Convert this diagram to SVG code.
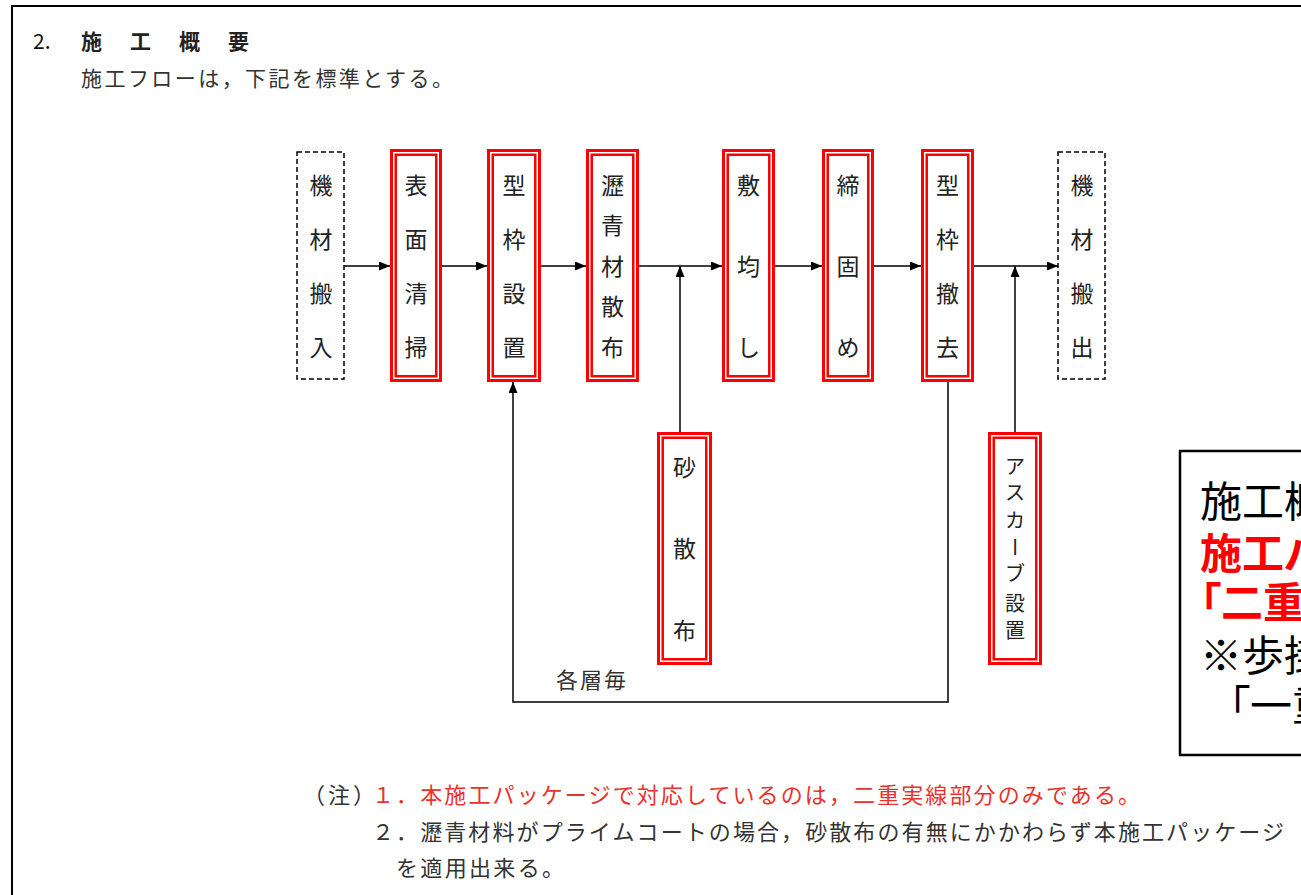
<svg xmlns="http://www.w3.org/2000/svg" width="1301" height="895" viewBox="0 0 1301 895">
<style>
.jp{font-family:"Noto Sans CJK JP","Noto Sans CJK SC",sans-serif;}
.lbl{font-family:"Noto Sans CJK JP","Noto Sans CJK SC",sans-serif;font-size:23px;fill:#222;text-anchor:middle;}
.sm{font-size:20px;}
.ro{fill:none;stroke:#ff0000;stroke-width:3;}
.ri{fill:none;stroke:#ff0000;stroke-width:2.5;}
.dash{fill:#fff;stroke:#000;stroke-width:1.5;stroke-dasharray:5 3;}
.con{fill:none;stroke:#000;stroke-width:1.5;}
.note{font-family:"Noto Sans CJK JP","Noto Sans CJK SC",sans-serif;font-size:22px;fill:#333;}
.big{font-family:"Noto Sans CJK JP","Noto Sans CJK SC",sans-serif;font-size:42px;font-feature-settings:"palt";}
</style>
<defs>
<marker id="ah" markerUnits="userSpaceOnUse" markerWidth="12" markerHeight="10" refX="11" refY="4.5" orient="auto">
<path d="M0,0 L11,4.5 L0,9 z" fill="#000"/>
</marker>
</defs>
<rect x="0" y="0" width="1301" height="895" fill="#fff"/>
<rect x="12" y="6" width="1400" height="1000" fill="none" stroke="#000" stroke-width="2"/>

<g id="header">
<text class="jp" x="33" y="49" font-size="21" fill="#111">2.</text>
<text class="jp" font-size="21" font-weight="bold" fill="#222" y="49"><tspan x="81">施</tspan><tspan x="130">工</tspan><tspan x="179">概</tspan><tspan x="228">要</tspan></text>
<text class="jp" x="81" y="86" font-size="21" fill="#333" textLength="372" lengthAdjust="spacing">施工フローは，下記を標準とする。</text>
</g>

<g id="connectors">
<line class="con" x1="344" y1="266" x2="390" y2="266" marker-end="url(#ah)"/>
<line class="con" x1="442" y1="266" x2="487" y2="266" marker-end="url(#ah)"/>
<line class="con" x1="541" y1="266" x2="586" y2="266" marker-end="url(#ah)"/>
<line class="con" x1="639" y1="266" x2="722" y2="266" marker-end="url(#ah)"/>
<line class="con" x1="775" y1="266" x2="822" y2="266" marker-end="url(#ah)"/>
<line class="con" x1="874" y1="266" x2="921" y2="266" marker-end="url(#ah)"/>
<line class="con" x1="974" y1="266" x2="1058" y2="266" marker-end="url(#ah)"/>
<line class="con" x1="680" y1="432" x2="680" y2="266" marker-end="url(#ah)"/>
<line class="con" x1="1015" y1="432" x2="1015" y2="266" marker-end="url(#ah)"/>
<polyline class="con" points="948,382 948,702 513,702 513,382" marker-end="url(#ah)"/>
</g>

<g id="n-kizai-in">
<rect class="dash" x="297" y="152" width="47" height="227"/>
<text class="lbl" x="321"><tspan x="321" y="194">機</tspan><tspan x="321" y="248">材</tspan><tspan x="321" y="302">搬</tspan><tspan x="321" y="356">入</tspan></text>
</g>

<g id="n-hyomen">
<rect class="ro" x="391.5" y="150.5" width="49" height="230"/>
<rect class="ri" x="395.75" y="154.75" width="40.5" height="221.5"/>
<text class="lbl"><tspan x="416" y="194">表</tspan><tspan x="416" y="248">面</tspan><tspan x="416" y="302">清</tspan><tspan x="416" y="356">掃</tspan></text>
</g>

<g id="n-katawaku-set">
<rect class="ro" x="488.5" y="150.5" width="51" height="230"/>
<rect class="ri" x="492.75" y="154.75" width="42.5" height="221.5"/>
<text class="lbl"><tspan x="514" y="194">型</tspan><tspan x="514" y="248">枠</tspan><tspan x="514" y="302">設</tspan><tspan x="514" y="356">置</tspan></text>
</g>

<g id="n-rekisei">
<rect class="ro" x="587.5" y="150.5" width="50" height="230"/>
<rect class="ri" x="591.75" y="154.75" width="41.5" height="221.5"/>
<text class="lbl"><tspan x="612.5" y="194">瀝</tspan><tspan x="612.5" y="234">青</tspan><tspan x="612.5" y="275">材</tspan><tspan x="612.5" y="315">散</tspan><tspan x="612.5" y="356">布</tspan></text>
</g>

<g id="n-shikinarashi">
<rect class="ro" x="723.5" y="150.5" width="50" height="230"/>
<rect class="ri" x="727.75" y="154.75" width="41.5" height="221.5"/>
<text class="lbl"><tspan x="748.5" y="194">敷</tspan><tspan x="748.5" y="275">均</tspan><tspan x="748.5" y="356">し</tspan></text>
</g>

<g id="n-shimekatame">
<rect class="ro" x="823.5" y="150.5" width="49" height="230"/>
<rect class="ri" x="827.75" y="154.75" width="40.5" height="221.5"/>
<text class="lbl"><tspan x="848" y="194">締</tspan><tspan x="848" y="275">固</tspan><tspan x="848" y="356">め</tspan></text>
</g>

<g id="n-katawaku-remove">
<rect class="ro" x="922.5" y="150.5" width="50" height="230"/>
<rect class="ri" x="926.75" y="154.75" width="41.5" height="221.5"/>
<text class="lbl"><tspan x="947.5" y="194">型</tspan><tspan x="947.5" y="248">枠</tspan><tspan x="947.5" y="302">撤</tspan><tspan x="947.5" y="356">去</tspan></text>
</g>

<g id="n-kizai-out">
<rect class="dash" x="1058" y="152" width="47" height="227"/>
<text class="lbl"><tspan x="1082" y="194">機</tspan><tspan x="1082" y="248">材</tspan><tspan x="1082" y="302">搬</tspan><tspan x="1082" y="356">出</tspan></text>
</g>

<g id="n-sunasanpu">
<rect class="ro" x="658.5" y="433.5" width="52" height="230"/>
<rect class="ri" x="662.75" y="437.75" width="43.5" height="221.5"/>
<text class="lbl"><tspan x="684.5" y="476">砂</tspan><tspan x="684.5" y="557">散</tspan><tspan x="684.5" y="639">布</tspan></text>
</g>

<g id="n-ascurb">
<rect class="ro" x="989.5" y="433.5" width="51" height="230"/>
<rect class="ri" x="993.75" y="437.75" width="42.5" height="221.5"/>
<text class="lbl sm"><tspan x="1015" y="474">ア</tspan><tspan x="1015" y="500">ス</tspan><tspan x="1015" y="528">カ</tspan><tspan x="1015" y="581">ブ</tspan><tspan x="1015" y="611">設</tspan><tspan x="1015" y="638">置</tspan></text>
<text class="lbl sm" x="1015" y="554.6" transform="rotate(90 1015 547)">ー</text>
</g>

<g id="label-kakuso">
<text class="note" x="556" y="688" font-size="23" textLength="70" lengthAdjust="spacing">各層毎</text>
</g>

<g id="notes">
<text class="note" x="303" y="803" textLength="72" lengthAdjust="spacing">（注）</text>
<text class="note" x="372" y="803" style="fill:#e8322b" textLength="768" lengthAdjust="spacing">１．本施工パッケージで対応しているのは，二重実線部分のみである。</text>
<text class="note" x="372" y="840" textLength="912" lengthAdjust="spacing">２．瀝青材料がプライムコートの場合，砂散布の有無にかかわらず本施工パッケージ</text>
<text class="note" x="396" y="876" textLength="168" lengthAdjust="spacing">を適用出来る。</text>
</g>

<g id="callout">
<rect x="1180" y="451" width="200" height="304" fill="#fff" stroke="#000" stroke-width="2.5"/>
<text class="big" x="1200" y="517" fill="#000">施工概</text>
<text class="big" x="1200" y="569" fill="#ff0000" font-weight="bold">施工パ</text>
<text class="big" x="1200" y="618" fill="#ff0000" font-weight="bold">「二重</text>
<text class="big" x="1200" y="671" fill="#000">※歩掛</text>
<text class="big" x="1229" y="721" fill="#000">「一重</text>
</g>
</svg>
